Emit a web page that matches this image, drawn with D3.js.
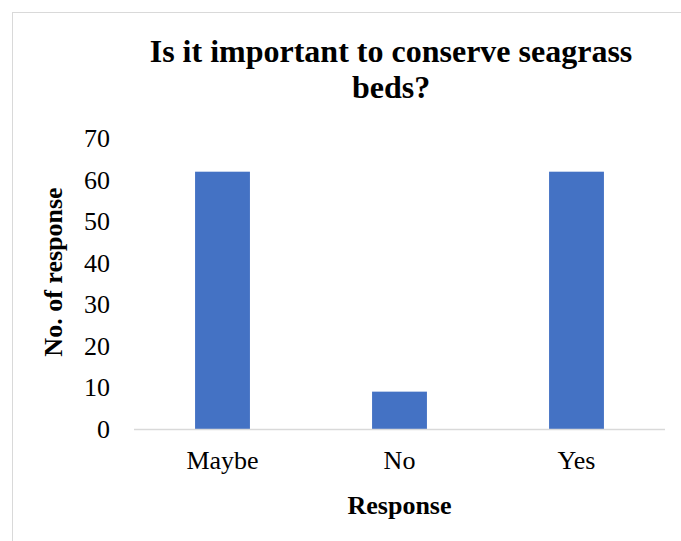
<!DOCTYPE html>
<html>
<head>
<meta charset="utf-8">
<script src="https://cdn.jsdelivr.net/npm/d3@7"></script>
<style>
  html, body { margin: 0; padding: 0; background: #fff; }
  svg { display: block; }
  text { font-family: "Liberation Serif", "Times New Roman", serif; fill: #000; }
</style>
</head>
<body>
<svg id="chart" width="681" height="541"></svg>
<script>
// Survey answers and counts
const categories = ["Maybe", "No", "Yes"];
const responses = [62, 9, 62];
const yTicks = [0, 10, 20, 30, 40, 50, 60, 70];
const titleLines = ["Is it important to conserve seagrass", "beds?"];

const svg = d3.select("#chart");
const W = 681, H = 541;
const serif = "Liberation Serif, Times New Roman, serif";

// chart frame
svg.append("rect")
  .attr("x", 12.5).attr("y", 12.5)
  .attr("width", W).attr("height", H)
  .attr("fill", "#fff").attr("stroke", "#d9d9d9").attr("stroke-width", 1);

const plot = { left: 134, right: 665, top: 138.5, bottom: 429 };

const x = d3.scaleBand()
  .domain(categories)
  .range([plot.left, plot.right])
  .paddingInner(0.69).paddingOuter(0.345);

const y = d3.scaleLinear()
  .domain([0, 70])
  .range([plot.bottom, plot.top]);

// bars
svg.append("g").selectAll("rect")
  .data(categories)
  .join("rect")
  .attr("x", d => x(d))
  .attr("width", x.bandwidth())
  .attr("y", (d, i) => y(responses[i]))
  .attr("height", (d, i) => y(0) - y(responses[i]))
  .attr("fill", "#4472c4");

// y axis (labels only)
const yAxis = svg.append("g")
  .attr("transform", `translate(${plot.left},0)`)
  .call(d3.axisLeft(y).tickValues(yTicks).tickSize(0).tickPadding(24));
yAxis.select(".domain").remove();
yAxis.selectAll("text")
  .attr("font-size", 26)
  .attr("font-family", serif)
  .attr("fill", "#000");

// x axis
const xAxis = svg.append("g")
  .attr("transform", `translate(0,${plot.bottom})`)
  .call(d3.axisBottom(x).tickSize(0).tickPadding(22));
xAxis.select(".domain")
  .attr("stroke", "#d9d9d9").attr("stroke-width", 1.5)
  .attr("d", `M${plot.left},0.5H${plot.right}`);
xAxis.selectAll("text")
  .attr("font-size", 26)
  .attr("font-family", serif)
  .attr("fill", "#000");

// title
svg.append("text")
  .attr("x", 391).attr("y", 62)
  .attr("text-anchor", "middle")
  .attr("font-size", 32).attr("font-weight", "bold")
  .attr("font-family", serif)
  .selectAll("tspan")
  .data(titleLines)
  .join("tspan")
  .attr("x", 391)
  .attr("dy", (d, i) => i === 0 ? 0 : 36)
  .text(d => d);

// axis titles
svg.append("text")
  .attr("x", (plot.left + plot.right) / 2).attr("y", 514)
  .attr("text-anchor", "middle")
  .attr("font-size", 26).attr("font-weight", "bold")
  .attr("font-family", serif)
  .text("Response");

svg.append("text")
  .attr("transform", "translate(62,272) rotate(-90)")
  .attr("text-anchor", "middle")
  .attr("font-size", 26).attr("font-weight", "bold")
  .attr("font-family", serif)
  .text("No. of response");
</script>
</body>
</html>
